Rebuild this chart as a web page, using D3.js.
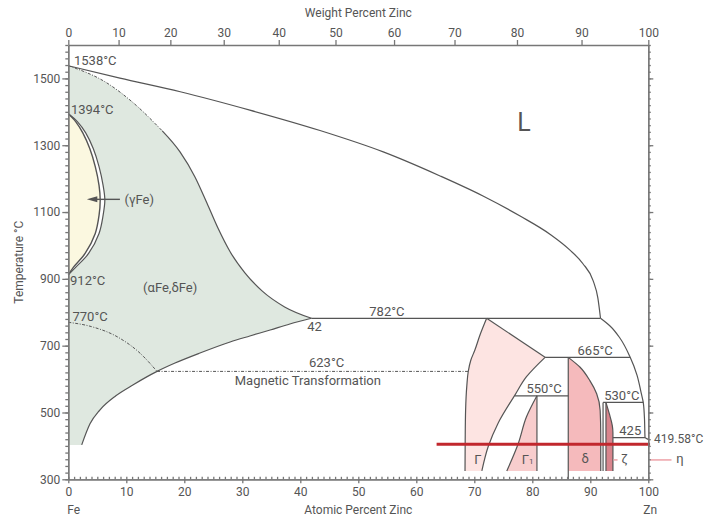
<!DOCTYPE html>
<html><head><meta charset="utf-8">
<script src="https://cdn.jsdelivr.net/npm/d3@7"></script>
<style>
body{margin:0;background:#fff;}
svg text{font-family:Roboto,"Liberation Sans",sans-serif;fill:#555;}
</style></head><body>
<svg id="c" width="704" height="517"></svg>
<script>
// ---------- data ----------
const atomicTicks = [0,10,20,30,40,50,60,70,80,90,100];
const weightTicks = [0,10,20,30,40,50,60,70,80,90,100];
const tempTicks = [300,500,700,900,1100,1300,1500];
const massFe = 55.845, massZn = 65.38;

// phase boundaries: [atomic % Zn, °C]
const liquidusUpper = [[0,1538],[8.9,1501],[19.3,1460],[31.3,1405],[43.4,1344],[54.3,1280],[64.1,1208],[71.5,1148],[77.9,1088],[83.1,1033],[86.5,986],[88.7,946],[90.5,894],[91.3,843],[91.76,782]];
const liquidusLower = [[91.76,782],[93.4,759],[95.1,723],[96.84,667],[98.05,612],[98.74,561],[99.14,529],[99.35,478],[99.43,426],[100,419.58]];
const alphaSolidusDashed = [[0,1538],[6.6,1487],[11.2,1427],[16.2,1343]];
const alphaSolidus = [[16.2,1343],[19.26,1280],[21.84,1205],[23.9,1127],[25.8,1052],[27.9,981],[30.45,918],[33.4,864],[37.3,816],[41.93,782]];
const alphaSolvus = [[41.93,782],[38.2,765],[34.8,747],[31.3,729],[27.9,711],[22.7,678],[18.4,648],[15.3,623],[11.2,583],[8.2,550],[5.47,508],[3.74,466],[2.31,403]];
const alphaBaseT = 403;
const gammaInner = [[0,1394],[1.3,1370],[2.5,1337],[3.7,1290],[4.65,1236],[5.3,1180],[5.5,1136],[5.3,1090],[4.65,1036],[2.9,976],[0.9,935],[0,912]];
const gammaOuter = [[0,1394],[1.6,1370],[3.0,1337],[4.3,1290],[5.3,1236],[6.0,1180],[6.3,1136],[6.0,1090],[5.3,1036],[3.5,976],[1.3,935],[0,912]];
const curieLine = [[0,770],[4,757],[8.4,727],[12.4,677],[15.3,623]];
const magneticLine = [[15.3,623],[68.95,623]];
const GammaLeft = [[68.4,325],[68.43,417],[68.5,507],[68.72,582],[68.95,622],[69.41,657],[70.1,687],[70.98,732],[72.13,782]];
const GammaTopRight = [[72.13,782],[82.2,665]];
const GammaRight = [[82.2,665],[79.0,607],[77.0,552],[74.1,468],[72.4,398],[71.3,325]];
const Gamma1Left = [[80.8,550],[79.0,487],[77.6,408],[75.6,325]];
const Gamma1RightA = 80.8;
const deltaLeftA = 86.2;
const deltaRight = [[86.2,665],[88.2,636],[89.9,596],[91.1,556],[91.7,506],[91.8,436],[91.8,325]];
const zetaLinesA = [92.2,92.7];
const zetaRight = [[92.7,530],[93.3,495],[93.8,460],[93.9,440],[93.9,325]];
const phaseBaseT = 325;
const isotherms = [[782,41.93,91.76],[665,82.2,96.84],[550,77.0,86.2],[530,92.2,99.14],[425,93.9,99.43]];
const bath = [405,63.5,100.3];

const labels = [
  ["1538°C",0.98,1540,13],["1394°C",0.45,1393,13],["912°C",0.3,881,13],["770°C",0.72,774,13],
  ["(αFe,δFe)",12.9,861,13],["(γFe)",9.7,1124,13],["42",41.2,744,13],["782°C",51.9,790,13],
  ["623°C",41.5,636,13],["Magnetic Transformation",28.7,582,13],["665°C",87.8,672,13],
  ["550°C",79.0,557,13],["530°C",92.4,537,13],["425",95.0,433,13],["419.58°C",101.0,409,12],
  ["Γ",70.0,346,13],["δ",88.5,349,13],["ζ",95.3,349,13],["η",104.8,349,13]
];

// ---------- scales ----------
const svg = d3.select("#c");
const x = d3.scaleLinear().domain([0,100]).range([68.3,648.3]);
const y = d3.scaleLinear().domain([300,1600]).range([479.3,45]);
const wToA = w => { const nz = w/massZn, nf = (100-w)/massFe; return 100*nz/(nz+nf); };

const lineX = d3.line().x(d=>x(d[0])).y(d=>y(d[1])).curve(d3.curveMonotoneX);
const lineY = d3.line().x(d=>x(d[0])).y(d=>y(d[1])).curve(d3.curveMonotoneY);
const loop = d3.line().x(d=>x(d[0])).y(d=>y(d[1])).curve(d3.curveCatmullRom.alpha(0.5));
const straight = d3.line().x(d=>x(d[0])).y(d=>y(d[1]));
const join = (...parts) => parts.map((p,i)=> i===0 ? p : p.replace(/^M/,"L")).join("");

const LINE = "#555";
const g = svg.append("g");

// ---------- fills ----------
g.append("path")
  .attr("d", join(lineX(alphaSolidusDashed), lineX(alphaSolidus), lineX(alphaSolvus),
                  straight([[2.31,alphaBaseT],[0,alphaBaseT]])) + "Z")
  .attr("fill","#dfe8e0");
g.append("path").attr("d", loop(gammaOuter)+"Z").attr("fill","#fff");
g.append("path").attr("d", loop(gammaInner)+"Z").attr("fill","#fbf8e0");
g.append("path").attr("d", join(lineY(GammaLeft), straight(GammaTopRight), lineY(GammaRight))+"Z").attr("fill","#fde4e2");
g.append("path").attr("d", join(lineY(Gamma1Left), straight([[75.6,phaseBaseT],[Gamma1RightA,phaseBaseT],[Gamma1RightA,550]])) + "Z").attr("fill","#f8cdcd");
g.append("path").attr("d", join(lineY(deltaRight), straight([[91.8,phaseBaseT],[deltaLeftA,phaseBaseT],[deltaLeftA,665]]))+"Z").attr("fill","#f5babc");
g.append("path").attr("d", join(lineY(zetaRight), straight([[93.9,phaseBaseT],[zetaLinesA[1],phaseBaseT],[zetaLinesA[1],530]]))+"Z").attr("fill","#d9858d");

// ---------- boundary lines ----------
const stroke = (d, w=1.2, dash=null) => g.append("path").attr("d",d).attr("fill","none")
  .attr("stroke",LINE).attr("stroke-width",w).attr("stroke-dasharray",dash);
const DD = "3,1.5,1,1.5";
stroke(lineX(liquidusUpper));
stroke(lineY(liquidusLower));
stroke(lineX(alphaSolidusDashed),1,DD);
stroke(lineX(alphaSolidus));
stroke(lineX(alphaSolvus));
stroke(loop(gammaInner),1.4);
stroke(loop(gammaOuter),1.2);
stroke(lineX(curieLine),1,DD);
stroke(straight(magneticLine),1,DD);
stroke(lineY(GammaLeft));
stroke(straight(GammaTopRight));
stroke(lineY(GammaRight));
stroke(lineY(Gamma1Left));
stroke(straight([[Gamma1RightA,550],[Gamma1RightA,phaseBaseT]]));
stroke(straight([[deltaLeftA,665],[deltaLeftA,300]]));
stroke(lineY(deltaRight));
zetaLinesA.forEach(a=>stroke(straight([[a,530],[a,phaseBaseT]])));
stroke(lineY(zetaRight));
isotherms.forEach(([t,a0,a1])=>stroke(straight([[a0,t],[a1,t]])));

// arrow to gamma loop
stroke(straight([[8.9,1138],[4.6,1138]]),1.4);
g.append("path").attr("fill",LINE)
  .attr("d",`M${x(3.2)},${y(1138)}L${x(5.0)},${y(1138)-3}L${x(5.0)},${y(1138)+3}Z`);

// pink pointer lines for ζ and η
g.append("line").attr("x1",x(94.0)).attr("x2",x(94.7)).attr("y1",y(358)).attr("y2",y(358)).attr("stroke","#eea2a8").attr("stroke-width",1.5);
g.append("line").attr("x1",x(100.3)).attr("x2",x(104.0)).attr("y1",y(358)).attr("y2",y(358)).attr("stroke","#eea2a8").attr("stroke-width",1.5);

// red bath line
g.append("line").attr("x1",x(bath[1])).attr("x2",x(bath[2])).attr("y1",y(bath[0])).attr("y2",y(bath[0]))
  .attr("stroke","#c1272d").attr("stroke-width",3);

// ---------- labels ----------
labels.forEach(([t,a,T,fs])=>g.append("text").attr("x",x(a)).attr("y",y(T)).attr("font-size",fs).text(t));
const g1 = g.append("text").attr("x",x(78.2)).attr("y",y(346)).attr("font-size",13).text("Γ");
g1.append("tspan").attr("font-size",8).text("1");
g.append("text").attr("x",x(77.4)).attr("y",y(1343)).attr("font-size",25).attr("fill","#444").text("L");

// ---------- axes ----------
const styleAxis = sel => { sel.selectAll("path,line").attr("stroke","#777").attr("stroke-width",1.3);
  sel.selectAll("text").attr("font-size",12).attr("fill","#555").attr("font-family","Roboto,sans-serif"); };
const minorT = d3.range(300,1601,20);
const minorA = d3.range(0,101,1);
const fmt = d3.format("d");

svg.append("g").attr("transform",`translate(0,${y(300)})`)
  .call(d3.axisBottom(x).tickValues(minorA).tickSize(-2.5).tickSizeOuter(0).tickFormat("")).call(styleAxis);
svg.append("g").attr("transform",`translate(0,${y(300)})`)
  .call(d3.axisBottom(x).tickValues(atomicTicks).tickSize(4).tickPadding(4).tickSizeOuter(0).tickFormat(fmt)).call(styleAxis);
svg.append("g").attr("transform",`translate(0,${y(1600)})`)
  .call(d3.axisTop(x).tickValues(weightTicks.map(wToA)).tickFormat((d,i)=>weightTicks[i]).tickSize(5).tickPadding(3).tickSizeOuter(0)).call(styleAxis);
svg.append("g").attr("transform",`translate(${x(0)},0)`)
  .call(d3.axisLeft(y).tickValues(minorT).tickSize(3).tickSizeOuter(0).tickFormat("")).call(styleAxis);
svg.append("g").attr("transform",`translate(${x(0)},0)`)
  .call(d3.axisLeft(y).tickValues(tempTicks).tickSize(6).tickPadding(2).tickSizeOuter(0).tickFormat(fmt)).call(styleAxis);
svg.append("g").attr("transform",`translate(${x(100)},0)`)
  .call(d3.axisRight(y).tickValues(minorT).tickSize(2.5).tickSizeOuter(0).tickFormat("")).call(styleAxis);
svg.append("g").attr("transform",`translate(${x(100)},0)`)
  .call(d3.axisRight(y).tickValues(tempTicks).tickSize(5).tickSizeOuter(0).tickFormat("")).call(styleAxis);

// axis titles
const title = (t,xx,yy,anchor="middle") => svg.append("text").attr("x",xx).attr("y",yy).attr("text-anchor",anchor).attr("font-size",12).text(t);
title("Weight Percent Zinc",(x(0)+x(100))/2,17);
title("Atomic Percent Zinc",(x(0)+x(100))/2,514);
title("Fe",x(0)-1,514,"start");
title("Zn",x(100)-5,514,"start");
svg.append("text").attr("transform",`translate(23,${(y(300)+y(1600))/2}) rotate(-90)`)
  .attr("text-anchor","middle").attr("font-size",12).text("Temperature °C");
</script></body></html>
